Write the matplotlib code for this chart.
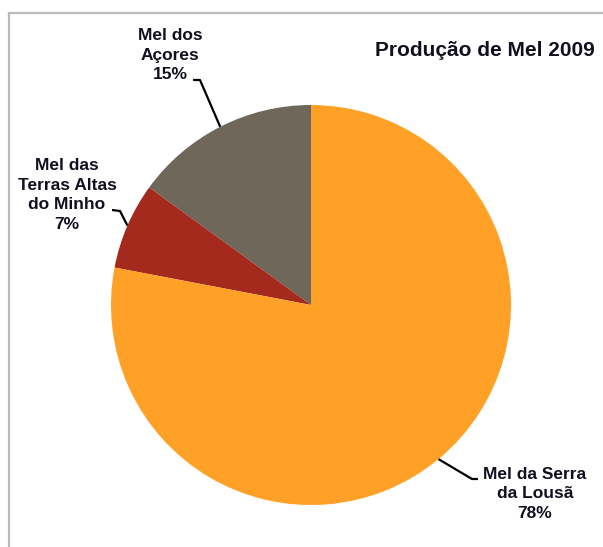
import matplotlib
matplotlib.use("Agg")
import matplotlib.pyplot as plt
import numpy as np

plt.rcParams['font.family'] = ['Liberation Sans', 'DejaVu Sans']

labels = ["Mel dos\nAçores\n15%", "Mel das\nTerras Altas\ndo Minho\n7%", "Mel da Serra\nda Lousã\n78%"]
values = [15, 7, 78]
colors = ["#6F675A", "#A52A1E", "#FFA126"]
title = "Produção de Mel 2009"

W, H = 603, 547
fig = plt.figure(figsize=(W / 100, H / 100), dpi=100)
fig.patch.set_facecolor("white")

cx, cy, R = 311, 305, 200
ax = fig.add_axes([(cx - R) / W, (H - cy - R) / H, 2 * R / W, 2 * R / H])
wedges, _ = ax.pie(values, colors=colors, startangle=90, counterclock=True,
                   radius=1, wedgeprops=dict(linewidth=0))
ax.set_xlim(-1, 1)
ax.set_ylim(-1, 1)
ax.set_aspect("equal")
ax.axis("off")


def d(xp, yp):
    return ((xp - cx) / R, (cy - yp) / R)


# label block centers (pixels) and leader elbow points (pixels)
label_pos = [(170, 55), (67, 195), (535, 494)]
elbows = [[(193, 80), (200, 80)], [(112, 210), (120, 211)], [(478, 479), (472, 479)]]

txt_color = "#101020"
for w, lab, (lx, ly), el in zip(wedges, labels, label_pos, elbows):
    mid = np.deg2rad((w.theta1 + w.theta2) / 2)
    ex, ey = np.cos(mid) * w.r, np.sin(mid) * w.r
    pts = [d(*p) for p in el] + [(ex, ey)]
    xs, ys = zip(*pts)
    ax.plot(xs, ys, color="black", lw=1.6, clip_on=False, solid_capstyle="butt")
    fig.text(lx / W, 1 - ly / H, lab, ha="center", va="center", fontsize=12.5,
             fontweight="bold", color=txt_color, linespacing=1.4)

fig.text(485 / W, 1 - 50 / H, title, ha="center", va="center", fontsize=15,
         fontweight="bold", color=txt_color)

# frame lines
fig.add_artist(plt.Line2D([9 / W, 1], [1 - 13 / H, 1 - 13 / H], color="#BBBBBB", lw=1.6,
                          transform=fig.transFigure))
fig.add_artist(plt.Line2D([9 / W, 9 / W], [0, 1 - 13 / H], color="#BBBBBB", lw=1.6,
                          transform=fig.transFigure))

fig.savefig("out.png", dpi=100, facecolor="white")
